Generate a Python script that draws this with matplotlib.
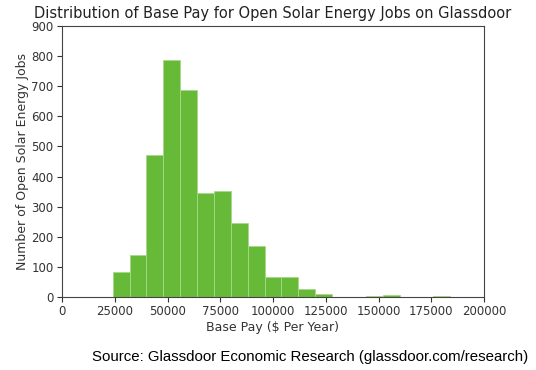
import matplotlib
matplotlib.use("Agg")
import matplotlib.pyplot as plt
import numpy as np

# Data
bin_start = 24000
bin_width = 8000
counts = [82, 140, 470, 787, 687, 344, 352, 247, 171, 67, 68, 26, 10, 1, 1, 3, 5, 0, 0, 2, 0, 1]
bin_edges = [bin_start + bin_width * i for i in range(len(counts) + 1)]
x_ticks = [0, 25000, 50000, 75000, 100000, 125000, 150000, 175000, 200000]
y_ticks = [0, 100, 200, 300, 400, 500, 600, 700, 800, 900]

title = "Distribution of Base Pay for Open Solar Energy Jobs on Glassdoor"
xlabel = "Base Pay (\\$ Per Year)"
ylabel = "Number of Open Solar Energy Jobs"
source = "Source: Glassdoor Economic Research (glassdoor.com/research)"

plt.rcParams['font.family'] = ['DejaVu Sans']
fig = plt.figure(figsize=(5.36, 3.70), dpi=100)
ax = fig.add_axes([62/536, 1 - 297/370, (484 - 62)/536, (297 - 26)/370])

ax.bar(bin_edges[:-1], counts, width=bin_width, align='edge',
       color='#67ba37', edgecolor='#a8d88a', linewidth=0.6)

ax.set_xlim(0, 200000)
ax.set_ylim(0, 900)
ax.set_xticks(x_ticks)
ax.set_yticks(y_ticks)
ax.set_xticklabels([str(v) for v in x_ticks])
ax.tick_params(axis='both', labelsize=8.5, colors='#333333', length=3.5, width=0.8,
               direction='out', top=False, right=False, pad=2.5)
for s in ax.spines.values():
    s.set_color('#444444')
    s.set_linewidth(0.8)

ax.set_title(title, fontsize=10.5, color='#222222', pad=6)
ax.set_xlabel(xlabel, fontsize=9, color='#333333', labelpad=2)
ax.set_ylabel(ylabel, fontsize=9, color='#333333', labelpad=2)

fig.text(92/536, 1 - 357/370, source, fontsize=10.8, family=['Liberation Sans'],
         color='black', va='center', ha='left')

fig.savefig("out.png", dpi=100)
